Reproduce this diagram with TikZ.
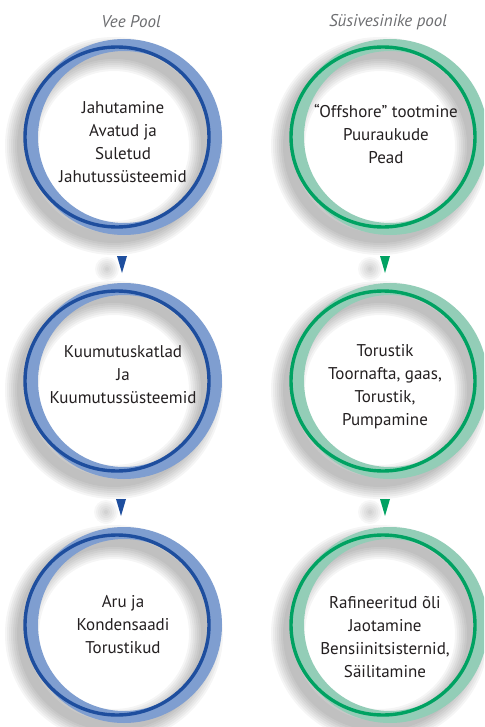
\documentclass[tikz,border=0pt]{standalone}
\usepackage{fontspec}
\setmainfont{PT Sans}
\usetikzlibrary{positioning}

\definecolor{waterlight}{HTML}{7F9ED0}
\definecolor{waterdark}{HTML}{1E4E9E}
\definecolor{hclight}{HTML}{93CDB7}
\definecolor{hcdark}{HTML}{00A262}
\definecolor{textgray}{HTML}{231F20}
\definecolor{headgray}{HTML}{6D6E71}

\begin{document}
\begin{tikzpicture}[
  x=1pt, y=-1pt,
  boxtext/.style={align=center, font=\fontsize{17}{23}\selectfont, text=textgray},
  heading/.style={font=\fontsize{17}{20}\selectfont\itshape, text=headgray},
  ringshadow/.style={black, opacity=0.04},
  tipshadow/.style={black, opacity=0.03}
]
  \useasboundingbox (0,0) rectangle (484,727);
  \clip (0,0) rectangle (484,727);

  % Column headings
  \node[heading] (wtitle) at (131,22) {Vee Pool};
  \node[heading] (htitle) at (388,22) {Süsivesinike pool};

  % Rings: name / centre / light colour / dark colour
  \foreach \name/\cx/\cy/\light/\dark in {
      w1/124/137/waterlight/waterdark, w2/124/381/waterlight/waterdark,
      w3/124/625/waterlight/waterdark, h1/390/137/hclight/hcdark,
      h2/390/381/hclight/hcdark, h3/390/625/hclight/hcdark} {
    \coordinate (\name) at (\cx,\cy);
    % soft shadow, shifted down-left
    \foreach \lw in {10,14,...,34}
      \draw[ringshadow, line width=\lw pt] (\cx-10,\cy+9) circle[radius=92pt];
    \draw[\light, line width=12pt] (\name) circle[radius=92pt];
    \draw[\dark, line width=3.4pt] (\cx-7,\cy) ellipse[x radius=92pt, y radius=90pt];
  }

  % Texts inside the rings
  \node[boxtext] (w1t) at (123,142) {Jahutamine\\Avatud ja\\Suletud\\Jahutussüsteemid};
  \node[boxtext] (w2t) at (123,375) {Kuumutuskatlad\\Ja\\Kuumutussüsteemid};
  \node[boxtext] (w3t) at (123,625) {Aru ja\\Kondensaadi\\Torustikud};
  \node[boxtext] (h1t) at (386,134) {“Offshore” tootmine\\Puuraukude\\Pead};
  \node[boxtext] (h2t) at (385,387) {Torustik\\Toornafta, gaas,\\Torustik,\\Pumpamine};
  \node[boxtext] (h3t) at (385,637) {Rafineeritud õli\\Jaotamine\\Bensiinitsisternid,\\Säilitamine};

  % Small down pointers between the rings
  \foreach \name/\tx/\ty/\col in {
      wa1/122/256/waterdark, wa2/121/499/waterdark,
      ha1/385/256/hcdark, ha2/385/499/hcdark} {
    \coordinate (\name) at (\tx,\ty);
    \foreach \r in {2,4,...,12}
      \fill[tipshadow] (\tx-15,\ty+13) circle[radius=\r pt];
    \fill[\col] (\name) ++(-5,0) -- ++(10,0) -- ++(-5,17) -- cycle;
  }
\end{tikzpicture}
\end{document}
